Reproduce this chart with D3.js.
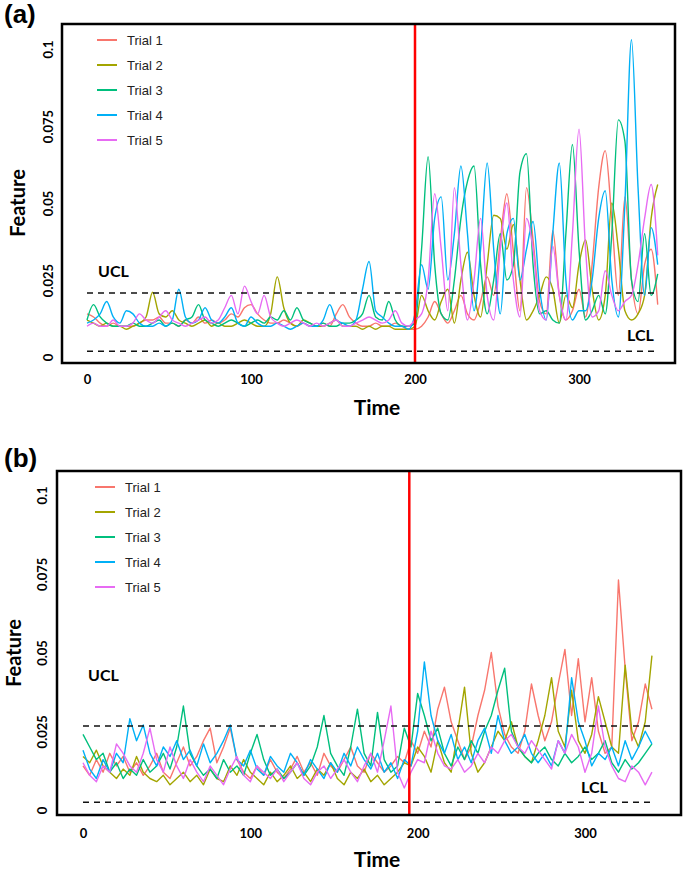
<!DOCTYPE html>
<html>
<head>
<meta charset="utf-8">
<script src="https://cdn.jsdelivr.net/npm/d3@7"></script>
<style>
  body { margin: 0; background: #fff; }
  svg { display: block; }
</style>
</head>
<body>
<div id="chart"></div>
<script>

// Trial names and the ggplot hue colours
const trialNames = ["Trial 1", "Trial 2", "Trial 3", "Trial 4", "Trial 5"];
const trialColors = ["#F8766D", "#A3A500", "#00BF7D", "#00B0F6", "#E76BF3"];

// tick values
const yTicks = [0, 0.025, 0.05, 0.075, 0.1];
const xTicks = [0, 100, 200, 300];

// sampling grid (every 4 time units)
const timeA = d3.range(0, 349, 4);
const timeB = d3.range(0, 341, 4);

// Panel (a) feature values, in thousandths (12 = 0.012)
const aTrial1 = [14,13,11,10,11,10,10,10,11,12,12,13,11,11,10,12,11,13,11,12,11,12,14,13,16,17,14,12,11,11,12,11,10,11,10,10,11,10,14,17,13,11,10,10,11,10,10,11,10,9,
  9,10,13,18,14,11,15,20,14,12,18,26,20,38,53,34,15,55,38,18,14,41,20,12,15,22,13,30,55,67,45,20,52,25,14,30,35,17];
const aTrial2 = [12,11,10,11,10,10,9,10,11,13,21,14,13,15,12,11,10,11,12,10,11,10,10,11,12,11,10,10,14,26,16,11,10,12,11,10,10,11,12,10,10,10,9,10,9,10,10,9,9,9,
  10,20,15,12,18,22,11,25,34,20,13,30,46,45,35,43,25,12,15,20,26,22,11,20,16,30,38,22,12,20,50,35,15,12,14,20,45,56];
const aTrial3 = [12,17,13,11,10,10,10,11,10,10,11,12,10,11,10,12,13,17,12,11,10,11,12,11,10,11,12,11,13,12,15,12,16,12,11,10,11,10,10,11,11,12,14,20,13,12,18,12,10,10,
  11,35,65,30,14,12,25,45,57,62,30,14,25,40,25,30,60,66,30,14,15,12,11,40,69,35,12,15,20,14,40,77,70,25,18,40,20,27];
const aTrial4 = [11,12,14,18,13,11,15,14,11,10,10,11,10,12,22,13,11,12,16,12,11,13,16,11,10,13,11,10,10,11,10,9,10,11,10,10,12,17,12,11,10,12,22,31,15,13,11,10,10,9,
  14,30,22,45,52,25,40,62,40,15,35,63,35,14,40,45,25,35,44,22,12,40,63,25,12,15,15,25,45,54,25,13,50,103,55,20,42,30];
const aTrial5 = [10,11,10,10,12,10,10,11,14,12,11,13,15,12,11,10,11,12,13,11,12,16,20,14,23,18,14,20,13,11,10,11,12,11,10,11,10,11,12,10,10,11,12,13,12,11,12,15,11,10,
  12,14,25,53,35,15,55,30,12,25,45,20,12,35,50,25,13,45,35,15,12,36,20,12,40,74,35,13,15,28,20,15,18,20,30,45,56,33];

// Panel (b) feature values, in thousandths
const bTrial1 = [14,11,16,12,18,14,17,12,15,11,14,18,12,10,15,20,14,17,22,26,15,20,26,16,12,10,14,11,16,12,10,13,17,12,15,11,18,14,12,16,20,14,12,18,15,12,14,17,15,
  22,18,25,20,32,39,28,22,16,20,30,38,50,33,24,20,18,25,40,30,22,28,40,51,30,48,28,42,25,18,20,73,45,22,28,40,32];
const bTrial2 = [17,15,19,14,12,10,13,11,17,12,10,9,11,8,10,12,9,11,8,13,10,9,14,11,16,12,10,8,12,9,11,14,10,12,9,13,11,15,10,8,12,10,13,9,11,8,10,12,15,
  14,20,17,12,22,15,12,25,39,18,12,15,20,25,22,28,20,17,15,22,30,42,25,20,38,22,18,24,36,28,20,18,46,25,20,28,49];
const bTrial3 = [24,20,16,18,12,15,10,13,11,16,12,14,18,13,20,33,18,14,11,13,10,16,12,14,11,18,24,16,11,13,10,12,15,11,14,20,30,18,14,11,20,32,18,14,31,16,12,14,26,
  20,37,30,22,26,18,14,20,16,22,18,25,30,38,45,25,20,17,15,18,20,16,14,18,15,17,20,16,18,22,15,12,16,13,15,18,21];
const bTrial4 = [19,13,10,16,12,18,15,29,22,27,18,14,20,17,22,16,19,14,21,15,18,22,27,16,14,19,13,11,17,14,12,18,15,11,16,13,10,15,12,18,14,20,16,13,18,12,15,10,16,
  14,25,47,30,22,18,24,16,20,15,22,26,18,30,22,18,20,24,18,15,18,14,22,18,42,28,22,14,18,16,20,14,22,16,20,25,21];
const bTrial5 = [15,11,9,14,12,21,18,14,12,18,26,16,12,20,14,10,16,12,9,14,11,8,13,17,11,9,14,12,10,13,9,12,15,10,8,12,14,10,13,16,12,9,14,18,12,22,33,12,7,
  12,16,15,25,18,14,13,16,12,14,18,15,20,18,22,24,20,18,22,19,16,13,22,18,24,20,12,18,33,20,14,10,9,14,12,8,12];

// control limits and change point
const uclA = 0.0208, lclA = 0.0019, changeA = 200;
const uclB = 0.0267, lclB = 0.0025, changeB = 195;

const width = 685, height = 870;

const svg = d3.select("#chart")
  .append("svg")
  .attr("width", width)
  .attr("height", height)
  .style("font-family", "Lato, 'Open Sans', sans-serif");

function drawPanel(p) {
  let x = d3.scaleLinear().domain([0, 300]).range([p.x0, p.x300]);
  let y = d3.scaleLinear().domain([0, 0.1]).range([p.y0, p.y01]);

  let g = svg.append("g");

  // series lines
  let line = d3.line()
    .x((d, i) => x(p.time[i]))
    .y(d => y(d / 1000))
    .curve(p.curve);

  p.series.forEach((s, k) => {
    g.append("path")
      .datum(s)
      .attr("d", line)
      .attr("fill", "none")
      .attr("stroke", trialColors[k])
      .attr("stroke-width", 1.4)
      .attr("stroke-linejoin", "round");
  });

  // dashed control limits
  let tEnd = p.time[p.time.length - 1];
  [p.ucl, p.lcl].forEach(v => {
    g.append("line")
      .attr("x1", x(0)).attr("x2", x(tEnd))
      .attr("y1", y(v)).attr("y2", y(v))
      .attr("stroke", "#111")
      .attr("stroke-width", 1.5)
      .attr("stroke-dasharray", "6,5");
  });

  // change point
  g.append("line")
    .attr("x1", x(p.change)).attr("x2", x(p.change))
    .attr("y1", p.top).attr("y2", p.bottom)
    .attr("stroke", "#ff0000")
    .attr("stroke-width", 2.5);

  // frame
  g.append("rect")
    .attr("x", p.left).attr("y", p.top)
    .attr("width", p.right - p.left)
    .attr("height", p.bottom - p.top)
    .attr("fill", "none")
    .attr("stroke", "#000")
    .attr("stroke-width", 2.5);

  // y axis (rotated labels, no ticks)
  let yAxis = d3.axisLeft(y).tickValues(yTicks).tickSize(0).tickFormat(d3.format("~g"));
  let ya = g.append("g")
    .attr("transform", "translate(" + p.left + ",0)")
    .call(yAxis);
  ya.select(".domain").remove();
  ya.selectAll("text")
    .attr("transform", "rotate(-90)")
    .attr("x", 0)
    .attr("y", -p.yLabelGap)
    .attr("dy", 0)
    .attr("text-anchor", "middle")
    .attr("font-family", "Lato, sans-serif")
    .attr("font-weight", "bold")
    .attr("font-size", 13)
    .attr("fill", "#000");

  // x axis
  let xAxis = d3.axisBottom(x).tickValues(xTicks).tickSize(0).tickPadding(p.xPad);
  let xa = g.append("g")
    .attr("transform", "translate(0," + p.bottom + ")")
    .call(xAxis);
  xa.select(".domain").remove();
  xa.selectAll("text")
    .attr("font-family", "Lato, sans-serif")
    .attr("font-weight", "bold")
    .attr("font-size", 13)
    .attr("fill", "#000");

  // axis titles
  g.append("text")
    .attr("x", p.timeX).attr("y", p.timeY)
    .attr("text-anchor", "middle")
    .attr("font-weight", "bold")
    .attr("font-size", 21)
    .text("Time");

  g.append("text")
    .attr("transform", "translate(" + p.featX + "," + p.featY + ") rotate(-90)")
    .attr("text-anchor", "middle")
    .attr("font-weight", "bold")
    .attr("font-size", 20)
    .text("Feature");

  // panel letter
  g.append("text")
    .attr("x", 4).attr("y", p.letterY)
    .attr("font-family", "'Liberation Sans', Arial, sans-serif")
    .attr("font-weight", "bold")
    .attr("font-size", 26)
    .text(p.letter);

  // UCL / LCL labels
  g.append("text")
    .attr("x", p.uclX).attr("y", p.uclY)
    .attr("font-weight", "bold")
    .attr("font-size", 16)
    .text("UCL");
  g.append("text")
    .attr("x", p.lclX).attr("y", p.lclY)
    .attr("font-weight", "bold")
    .attr("font-size", 16)
    .text("LCL");

  // legend
  let leg = g.selectAll(".leg")
    .data(trialNames)
    .enter().append("g")
    .attr("transform", (d, i) => "translate(" + p.legX + "," + (p.legY + i * 25) + ")");
  leg.append("line")
    .attr("x1", 0).attr("x2", 20)
    .attr("stroke", (d, i) => trialColors[i])
    .attr("stroke-width", 2);
  leg.append("text")
    .attr("x", 30)
    .attr("dy", "0.36em")
    .attr("font-family", "'Liberation Sans', Arial, sans-serif")
    .attr("font-size", 13)
    .attr("fill", "#222")
    .text(d => d);
}

drawPanel({
  letter: "(a)", letterY: 23, curve: d3.curveMonotoneX,
  left: 62, top: 24, right: 675, bottom: 363,
  x0: 87, x300: 579, y0: 357, y01: 49,
  time: timeA, series: [aTrial1, aTrial2, aTrial3, aTrial4, aTrial5],
  ucl: uclA, lcl: lclA, change: changeA,
  yLabelGap: 9, xPad: 12,
  timeX: 377, timeY: 415, featX: 25, featY: 203,
  uclX: 98, uclY: 277, lclX: 627, lclY: 341,
  legX: 97, legY: 40
});

drawPanel({
  letter: "(b)", letterY: 467, curve: d3.curveLinear,
  left: 57, top: 471, right: 681, bottom: 815,
  x0: 83, x300: 585, y0: 810, y01: 495,
  time: timeB, series: [bTrial1, bTrial2, bTrial3, bTrial4, bTrial5],
  ucl: uclB, lcl: lclB, change: changeB,
  yLabelGap: 10, xPad: 14,
  timeX: 377, timeY: 867, featX: 21, featY: 653,
  uclX: 88, uclY: 681, lclX: 581, lclY: 793,
  legX: 95, legY: 487
});

</script>
</body>
</html>
